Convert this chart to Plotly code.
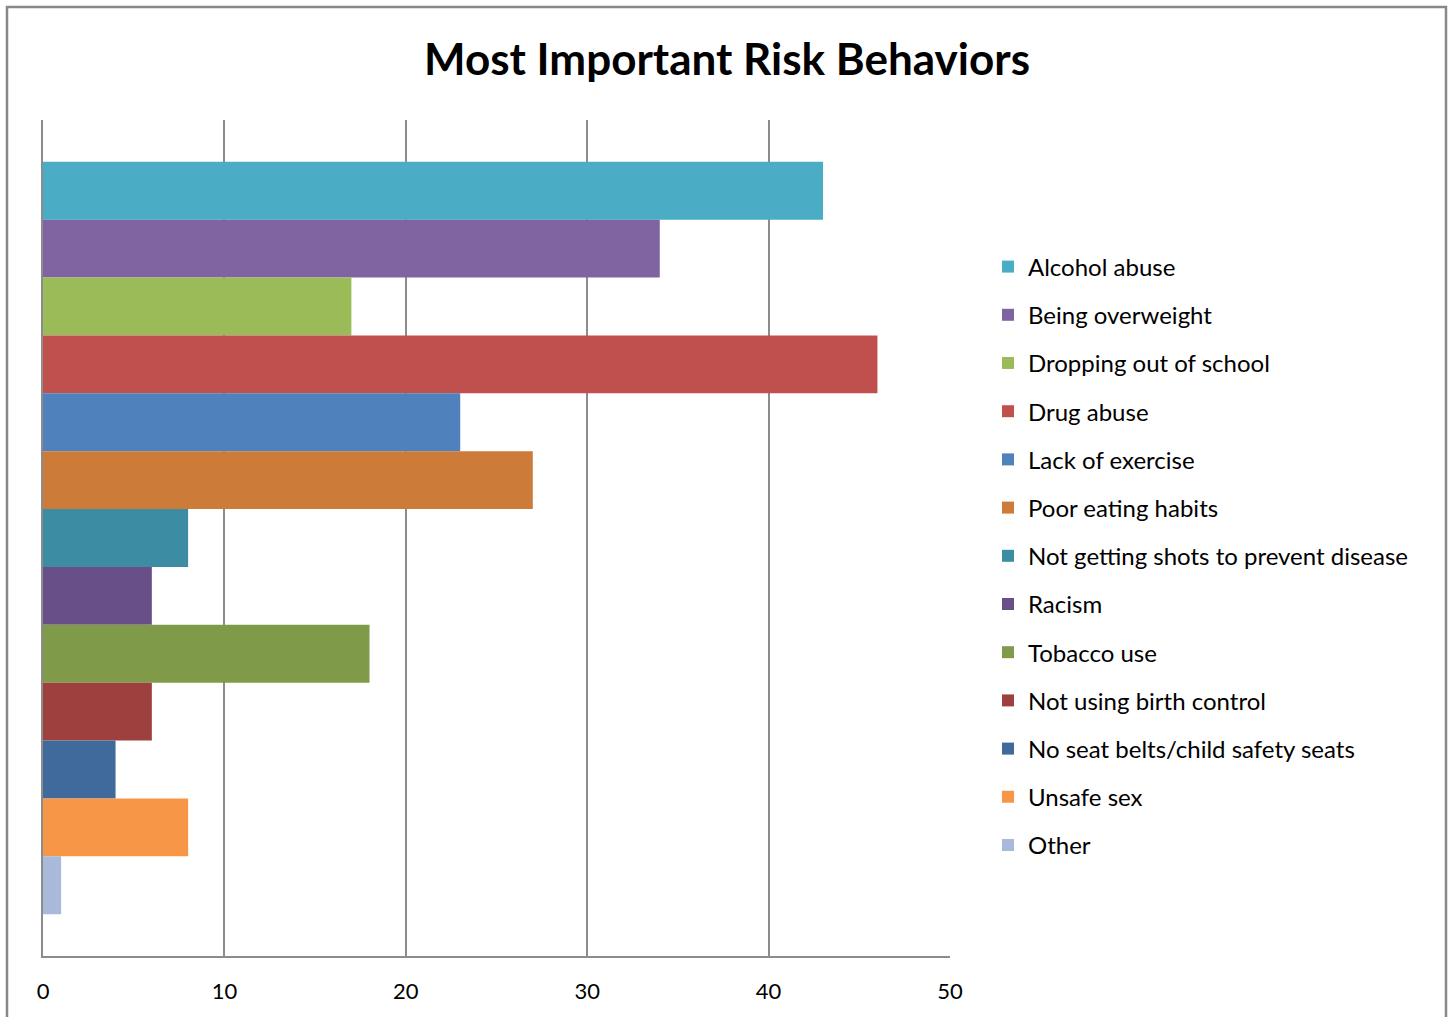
import plotly.graph_objects as go

categories = ["Alcohol abuse", "Being overweight", "Dropping out of school", "Drug abuse",
              "Lack of exercise", "Poor eating habits", "Not getting shots to prevent disease",
              "Racism", "Tobacco use", "Not using birth control",
              "No seat belts/child safety seats", "Unsafe sex", "Other"]
values = [43, 34, 17, 46, 23, 27, 8, 6, 18, 6, 4, 8, 1]
colors = ["#4BACC6", "#8064A2", "#9BBB59", "#C0504D", "#4F81BD", "#CC7B38", "#3C8DA3",
          "#684F88", "#7F9B49", "#9E413E", "#406A9B", "#F79646", "#A8B9D9"]
x_ticks = [0, 10, 20, 30, 40, 50]

FONT = "Lato, Carlito, 'Open Sans', sans-serif"

fig = go.Figure()
for name, val, col in zip(categories, values, colors):
    fig.add_trace(go.Bar(
        x=[val], y=[""], orientation="h", name=name, marker_color=col,
        marker_line_width=0, legendgroup=name,
    ))

W, H = 1453, 1017
L, R, T, B = 43, 950, 120, 956
pw, ph = R - L, B - T

def px(x):
    return (x - L) / pw

def py(y):
    return (B - y) / ph

fig.update_layout(
    width=W, height=H,
    margin=dict(l=L, r=W - R, t=T, b=H - B, autoexpand=False),
    paper_bgcolor="white", plot_bgcolor="white",
    barmode="group", bargap=0.1, bargroupgap=0,
    font=dict(family=FONT, color="black"),
    title=dict(text="<b>Most Important Risk Behaviors</b>", font=dict(size=44, family=FONT, color="black"),
               x=px(727), xref="paper", xanchor="center", y=1 - 60 / H, yref="container", yanchor="middle"),
    xaxis=dict(range=[0, 50], tickvals=x_ticks, showgrid=True, gridcolor="#8C8C8C", gridwidth=1.5,
               showline=True, linecolor="#8C8C8C", linewidth=1.5, zeroline=False, ticks="",
               tickfont=dict(size=22, family=FONT, color="black"), ticklabelstandoff=15, fixedrange=True),
    yaxis=dict(range=[0.5, -0.5], showticklabels=False, showgrid=False, showline=True,
               linecolor="#8C8C8C", linewidth=1.5, zeroline=False, ticks="", fixedrange=True),
    legend=dict(x=px(988), xanchor="left", y=py(556), yanchor="middle", traceorder="grouped",
                tracegroupgap=14, font=dict(size=24, family=FONT, color="black"),
                bgcolor="rgba(0,0,0,0)", itemclick=False),
    showlegend=True,
    shapes=[dict(type="rect", xref="paper", yref="paper", x0=px(7), x1=px(1446), y0=py(1060), y1=py(7),
                 line=dict(color="#888888", width=2.5), fillcolor="rgba(0,0,0,0)", layer="above")],
)

fig.write_html("out.html", config={"displayModeBar": False},
               post_script="document.body.style.margin='0';")
